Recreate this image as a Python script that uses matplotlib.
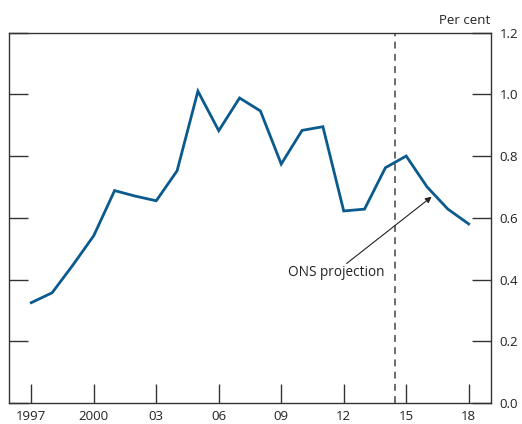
import numpy as np
import matplotlib.pyplot as plt

plt.rcParams['font.family'] = ['Open Sans', 'DejaVu Sans']

# Datos de la serie
anios = list(range(1997, 2019))
valores = [0.325, 0.357, 0.447, 0.542, 0.688, 0.670, 0.655, 0.752, 1.010, 0.882,
           0.988, 0.946, 0.774, 0.883, 0.895, 0.622, 0.628, 0.762, 0.800, 0.700,
           0.628, 0.580]
etiquetas_x = ['1997', '2000', '03', '06', '09', '12', '15', '18']
ticks_x = [1997, 2000, 2003, 2006, 2009, 2012, 2015, 2018]
ticks_y = [0.0, 0.2, 0.4, 0.6, 0.8, 1.0, 1.2]

fig = plt.figure(figsize=(5.22, 4.24), dpi=100)
ax = fig.add_axes([0.0172, 0.0495, 0.9234, 0.8738])

ax.plot(anios, valores, color='#0b5a8e', lw=2.0, solid_joinstyle='miter')
ax.axvline(2014.46, color='#444444', lw=1.1, ls=(0, (4.5, 3.5)))

# Flecha y texto de la proyección
ax.annotate('', xy=(2016.22, 0.668), xytext=(2012.14, 0.452),
            arrowprops=dict(arrowstyle='-|>', color='#222222', lw=0.8,
                            mutation_scale=9, shrinkA=0, shrinkB=0))
ax.text(2011.63, 0.424, 'ONS projection', ha='center', va='center',
        fontsize=9.8, color='#222222')

ax.set_xlim(1995.93, 2019.07)
ax.set_ylim(0, 1.2)
ax.set_xticks(ticks_x)
ax.set_xticklabels(etiquetas_x)
ax.set_yticks(ticks_y)
ax.yaxis.tick_right()
ax.tick_params(axis='x', direction='in', length=14, width=1.0, color='#333333',
               labelsize=9.5, labelcolor='#222222', pad=5)
ax.tick_params(axis='y', direction='in', length=14, width=1.0, color='#333333',
               left=True, right=True, labelleft=False, labelright=True,
               labelsize=9.5, labelcolor='#222222', pad=6)
ax.set_yticklabels([f'{v:.1f}' for v in ticks_y])
for s in ax.spines.values():
    s.set_color('#333333')
    s.set_linewidth(1.0)

fig.text(0.939, 0.952, 'Per cent', ha='right', va='center', fontsize=9.5, color='#222222')

fig.savefig('out.png', dpi=100)
